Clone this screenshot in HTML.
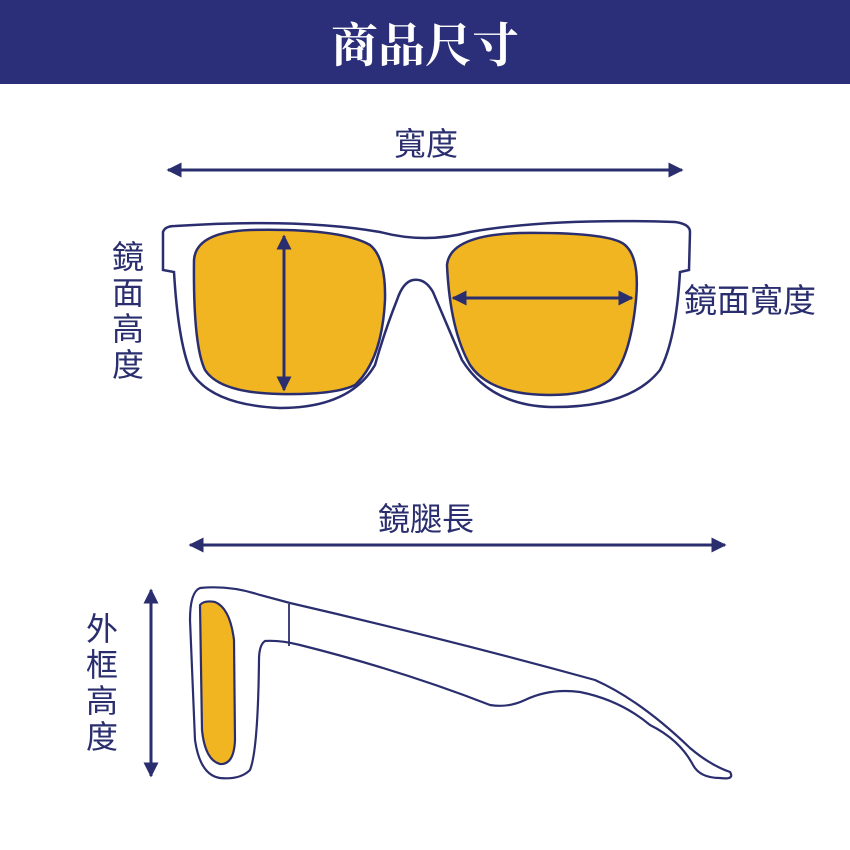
<!DOCTYPE html>
<html><head><meta charset="utf-8"><style>
html,body{margin:0;padding:0;background:#fff}
svg{display:block}
text{font-family:"Liberation Sans","Noto Sans CJK TC",sans-serif;fill:#2a2e6e}
</style></head><body>
<svg width="850" height="850" viewBox="0 0 850 850" xmlns="http://www.w3.org/2000/svg">
<defs>
<marker id="a" viewBox="0 0 10 10" refX="9" refY="5" markerWidth="5" markerHeight="5" orient="auto-start-reverse" markerUnits="strokeWidth"><path d="M0,0 L10,5 L0,10 Z" fill="#2a2e6e"/></marker>
</defs>
<rect x="0" y="0" width="850" height="84" fill="#2b2f7a"/>
<text x="425" y="62" text-anchor="middle" font-size="47" font-weight="bold" style="fill:#fff;font-family:'Noto Serif CJK SC','Noto Sans CJK TC',serif">商品尺寸</text>

<text x="426" y="155" text-anchor="middle" font-size="32">寬度</text>
<line x1="168" y1="170" x2="682" y2="170" stroke="#2a2e6e" stroke-width="3" marker-start="url(#a)" marker-end="url(#a)"/>

<!-- front frame -->
<path d="M163,232 Q165,226 175,226 Q300,218 380,232 Q425,244 470,232 Q550,218 675,222 Q690,224 690,232 L689,270 L680,272 Q676,340 660,370 Q630,408 550,407 Q490,405 462,360 Q445,320 433,292 Q425,278 413,280 Q403,282 397,300 Q385,330 375,365 Q350,408 280,408 Q210,405 190,370 Q178,340 174,272 L163,270 Z" fill="#fff" stroke="#2a2e6e" stroke-width="2.5"/>
<path d="M194,260 Q196,232 250,230 Q340,228 370,245 Q386,258 385,300 Q382,360 355,385 Q335,395 280,394 Q220,393 205,370 Q193,345 194,260 Z" fill="#f1b521" stroke="#2a2e6e" stroke-width="2.5"/>
<path d="M447,265 Q450,235 520,233 Q610,232 625,245 Q640,258 636,300 Q630,360 610,380 Q590,395 550,395 Q490,395 470,365 Q450,330 447,265 Z" fill="#f1b521" stroke="#2a2e6e" stroke-width="2.5"/>
<line x1="284" y1="236" x2="284" y2="390" stroke="#2a2e6e" stroke-width="3" marker-start="url(#a)" marker-end="url(#a)"/>
<line x1="453" y1="298" x2="632" y2="298" stroke="#2a2e6e" stroke-width="3" marker-start="url(#a)" marker-end="url(#a)"/>

<text font-size="32"><tspan x="112" y="268">鏡</tspan><tspan x="112" y="304">面</tspan><tspan x="112" y="340">高</tspan><tspan x="112" y="376">度</tspan></text>
<text x="684" y="312" font-size="33">鏡面寬度</text>

<text x="426" y="530" text-anchor="middle" font-size="32">鏡腿長</text>
<line x1="190" y1="545" x2="725" y2="545" stroke="#2a2e6e" stroke-width="3" marker-start="url(#a)" marker-end="url(#a)"/>

<line x1="151" y1="590" x2="151" y2="776" stroke="#2a2e6e" stroke-width="3" marker-start="url(#a)" marker-end="url(#a)"/>
<text font-size="32"><tspan x="86" y="640">外</tspan><tspan x="86" y="676">框</tspan><tspan x="86" y="712">高</tspan><tspan x="86" y="748">度</tspan></text>

<!-- side -->
<path d="M200,588 Q230,585 260,595 L290,603 Q450,640 595,680 Q640,700 690,748 Q710,765 730,772 Q735,780 720,778 Q700,778 693,765 Q680,740 650,725 Q620,700 580,692 Q550,688 525,700 Q508,708 490,705 Q400,670 300,645 Q280,640 265,641 Q259,645 259,660 Q258,750 250,770 Q240,780 220,778 Q200,775 195,740 L190,620 Q190,592 200,588 Z" fill="#fff" stroke="#2a2e6e" stroke-width="2.2"/>
<line x1="289" y1="604" x2="289" y2="646" stroke="#2a2e6e" stroke-width="1.8"/>
<path d="M200,605 Q204,600 215,602 Q230,608 234,640 L235,740 Q234,765 220,764 Q205,760 202,730 Z" fill="#f1b521" stroke="#2a2e6e" stroke-width="2.2"/>
</svg>
</body></html>
